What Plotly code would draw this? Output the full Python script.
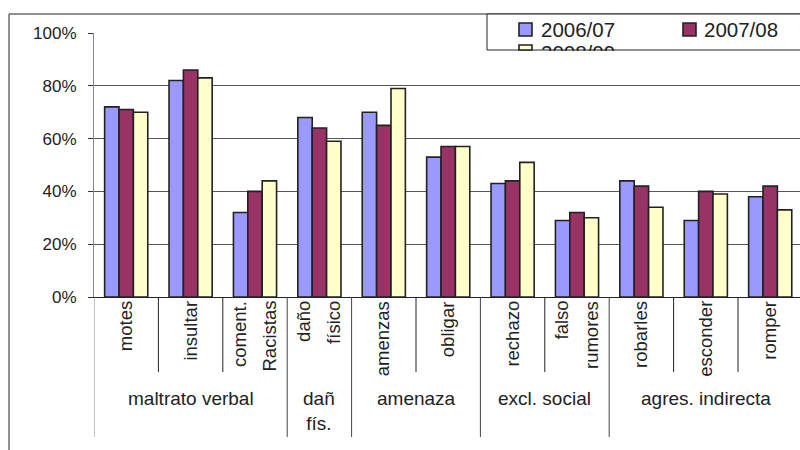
import plotly.graph_objects as go

# ---------------- data ----------------
categories = ["motes", "insultar", "coment.<br>Racistas", "daño<br>físico", "amenzas",
              "obligar", "rechazo", "falso<br>rumores", "robarles", "esconder", "romper"]
groups = (["maltrato verbal"] * 3 + ["dañ<br>fís."] + ["amenaza"] * 2 +
          ["excl. social"] * 2 + ["agres. indirecta"] * 3)
series_names = ["2006/07", "2007/08", "2008/09"]
v_2006_07 = [72, 82, 32, 68, 70, 53, 43, 29, 44, 29, 38]
v_2007_08 = [71, 86, 40, 64, 65, 57, 44, 32, 42, 40, 42]
v_2008_09 = [70, 83, 44, 59, 79, 57, 51, 30, 34, 39, 33]
y_tickvals = [0, 20, 40, 60, 80, 100]
y_ticktext = ["0%", "20%", "40%", "60%", "80%", "100%"]

colors = ["#9999FF", "#993366", "#FFFFCC"]
edge = "#222222"
FONT = "Liberation Sans, Arial, sans-serif"

# ---------------- layout geometry (pixels) ----------------
W, H = 800, 450
L, T = 94, 33
PW, PH = W - L, 264
CAT_W = 64.4


def px_x(p):
    return (p - L) / PW


def px_y(p):
    return (T + PH - p) / PH


fig = go.Figure()
for name, vals, col in zip(series_names, [v_2006_07, v_2007_08, v_2008_09], colors):
    fig.add_trace(go.Bar(x=categories, y=vals, name=name, showlegend=False,
                         marker=dict(color=col, line=dict(color=edge, width=1.6))))

shapes = []
annotations = []

# outer chart frame
shapes.append(dict(type="rect", xref="paper", yref="paper", layer="above",
                   x0=px_x(9), x1=px_x(820), y0=px_y(470), y1=px_y(14),
                   line=dict(color=edge, width=1), fillcolor="rgba(0,0,0,0)"))

# category separators
n = len(categories)
for i in range(n - 1):
    same = groups[i] == groups[i + 1]
    shapes.append(dict(type="line", xref="x", yref="paper", layer="above",
                       x0=i + 0.5, x1=i + 0.5, y0=0, y1=px_y(372 if same else 437),
                       line=dict(color="#222" if same else "#444", width=1)))
shapes.append(dict(type="line", xref="x", yref="paper", layer="above",
                   x0=-0.5, x1=-0.5, y0=0, y1=px_y(437), line=dict(color="#888", width=1)))
shapes.append(dict(type="line", xref="x", yref="paper", layer="above",
                   x0=n - 0.5, x1=n - 0.5, y0=0, y1=px_y(437), line=dict(color="#444", width=1)))

# inner (rotated) labels
for i, lab in enumerate(categories):
    lines = lab.split("<br>")
    shifts = [-1] if len(lines) == 1 else [-16, 14]
    for line, sh in zip(lines, shifts):
        annotations.append(dict(x=i, y=px_y(299), xref="x", yref="paper", text=line,
                                textangle=-90, xanchor="center", yanchor="top", xshift=sh,
                                showarrow=False, font=dict(family=FONT, size=18.5, color="#222")))

# outer group labels
start = 0
for i in range(1, n + 1):
    if i == n or groups[i] != groups[start]:
        annotations.append(dict(x=(start + i - 1) / 2, y=px_y(386), xref="x", yref="paper",
                                text=groups[start], xanchor="center", yanchor="top",
                                showarrow=False,
                                font=dict(family=FONT, size=19, color="#222")))
        start = i

# legend box
shapes.append(dict(type="rect", xref="paper", yref="paper", layer="above",
                   x0=px_x(487), x1=px_x(820), y0=px_y(50), y1=px_y(14),
                   line=dict(color=edge, width=1), fillcolor="white"))
leg_pos = [(519, 540, 23, 36, 29), (683, 703, 23, 36, 29), (519, 540, 45, 58, 52)]
for (sx, tx, sy0, sy1, ty), name, col in zip(leg_pos, series_names, colors):
    shapes.append(dict(type="rect", xref="paper", yref="paper", layer="above",
                       x0=px_x(sx), x1=px_x(sx + 13), y0=px_y(min(sy1, 50)), y1=px_y(sy0),
                       line=dict(color=edge, width=1.6), fillcolor=col))
    annotations.append(dict(x=px_x(tx - 1), y=px_y(ty), xref="paper", yref="paper", text=name,
                            xanchor="left", yanchor="middle", showarrow=False,
                            font=dict(family=FONT, size=20.5, color="#222")))
# clip the third legend row at the legend box border
annotations.append(dict(x=px_x(500), y=px_y(50.6), xref="paper", yref="paper", text=" ",
                        xanchor="left", yanchor="top", showarrow=False, width=200, height=16,
                        bgcolor="white", borderpad=0, borderwidth=0))

fig.update_layout(
    width=W, height=H,
    margin=dict(l=L, r=0, t=T, b=H - T - PH, pad=0),
    paper_bgcolor="white", plot_bgcolor="white",
    barmode="group", bargap=0.33, bargroupgap=0,
    shapes=shapes, annotations=annotations,
    font=dict(family=FONT, color="#222"),
    xaxis=dict(type="category", range=[-0.5, -0.5 + PW / CAT_W], showticklabels=False,
               ticks="", showgrid=False, showline=True, linecolor="#222", linewidth=1,
               zeroline=False, fixedrange=True),
    yaxis=dict(range=[0, 100], tickvals=y_tickvals, ticktext=y_ticktext, ticks="outside",
               ticklen=5, tickcolor="#333", showline=True, linecolor="#888", linewidth=1,
               showgrid=True, gridcolor="#555", gridwidth=1, zeroline=False,
               ticklabelstandoff=8,
               tickfont=dict(family=FONT, size=17, color="#222")),
)

fig.write_html("out.html")
